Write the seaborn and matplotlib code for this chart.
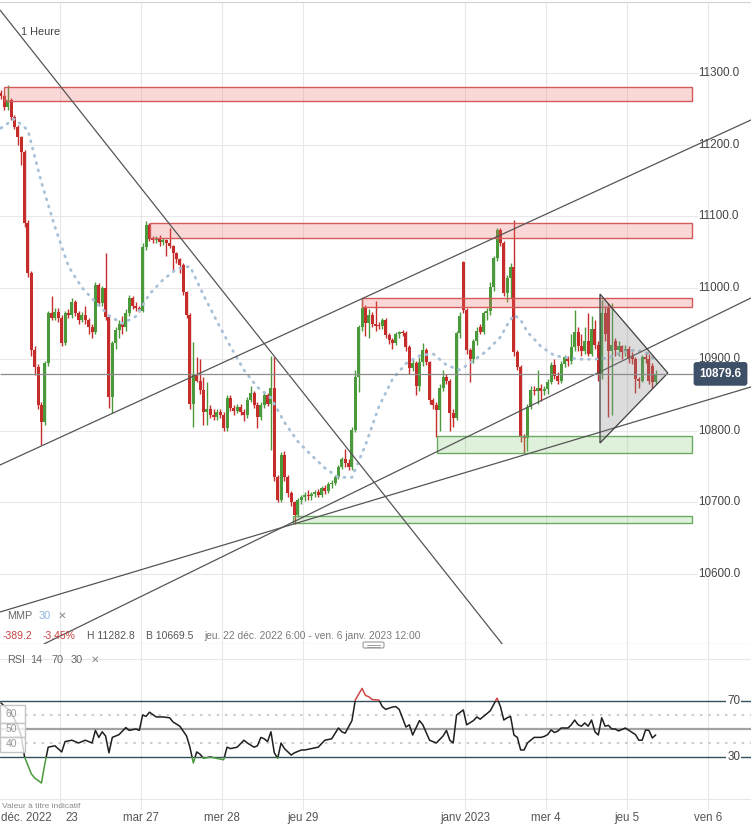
import numpy as np
import pandas as pd
import matplotlib
matplotlib.use('Agg')
import matplotlib.pyplot as plt
from matplotlib.patches import Rectangle, Polygon, FancyBboxPatch
from matplotlib.lines import Line2D
import seaborn as sns

# hourly candles, 22 dec 2022 6:00 -> 5 jan 2023 (one slot per hour)
opens = [
    11272, 11268, 11252, 11262, 11238, 11225, 11210, 11190, 11090, 11020,
    10913, 10889, 10836, 10812, 10895, 10965, 10958, 10966, 10958, 10923,
    10965, 10962, 10980, 10964, 10955, 10962, 10955, 10945, 10938, 11004,
    10979, 11000, 10959, 10847, 10923, 10941, 10950, 10945, 10965, 10985,
    10975, 10972, 10968, 11057, 11088, 11068, 11066, 11069, 11064, 11066,
    11062, 11058, 11048, 11040, 11032, 10994, 10962, 10838, 10878, 10870,
    10857, 10826, 10830, 10822, 10820, 10826, 10822, 10804, 10846, 10832,
    10828, 10834, 10826, 10822, 10843, 10853, 10836, 10820, 10836, 10850,
    10838, 10860, 10735, 10703, 10766, 10735, 10713, 10700, 10683, 10703,
    10707, 10711, 10709, 10712, 10715, 10711, 10720, 10716, 10726, 10727,
    10736, 10750, 10760, 10755, 10750, 10801, 10875, 10945, 10972, 10951,
    10962, 10950, 10947, 10946, 10955, 10934, 10927, 10923, 10935, 10938,
    10937, 10917, 10888, 10895, 10862, 10896, 10913, 10896, 10843, 10836,
    10829, 10860, 10875, 10870, 10825, 10818, 10937, 11036, 10969, 10913,
    10900, 10925, 10945, 10938, 10965, 10968, 11001, 11042, 11081, 11062,
    10993, 11014, 11029, 10910, 10889, 10792, 10790, 10834, 10857, 10855,
    10860, 10855, 10858, 10868, 10892, 10877, 10870, 10893, 10903, 10897,
    10917, 10938, 10918, 10912, 10925, 10908, 10943, 10920, 10880, 10965,
    10973, 10912, 10925, 10913, 10918, 10910, 10915, 10905, 10900, 10872,
    10870, 10903, 10900, 10890, 10868,
]
highs = [
    11276, 11270, 11283, 11265, 11241, 11228, 11212, 11192, 11095, 11024,
    10918, 10893, 10840, 10898, 10968, 10988, 10972, 10972, 10962, 10968,
    10970, 10985, 10983, 10968, 10966, 10975, 10958, 10950, 11008, 11006,
    11003, 11049, 10962, 10925, 10945, 10955, 10960, 10970, 10990, 10988,
    10980, 10975, 11062, 11093, 11090, 11072, 11072, 11073, 11070, 11068,
    11083, 11060, 11050, 11042, 11035, 10996, 10965, 10924, 10903, 10900,
    10875, 10868, 10836, 10830, 10830, 10830, 10826, 10850, 10850, 10836,
    10838, 10838, 10830, 10848, 10863, 10856, 10840, 10840, 10855, 10853,
    10905, 10903, 10738, 10770, 10772, 10738, 10716, 10702, 10706, 10710,
    10714, 10718, 10714, 10718, 10719, 10723, 10724, 10729, 10732, 10739,
    10752, 10763, 10774, 10760, 10806, 10885, 10948, 10986, 10976, 10970,
    10966, 10982, 10952, 10958, 10957, 10937, 10930, 10938, 10940, 10941,
    10939, 10920, 10900, 10898, 10903, 10923, 10916, 10898, 10846, 10840,
    10865, 10885, 10880, 10873, 10830, 10940, 10966, 11038, 10972, 10916,
    10928, 10945, 10950, 10968, 10972, 11008, 11045, 11083, 11084, 11065,
    11018, 11035, 11095, 10913, 10892, 10796, 10838, 10862, 10862, 10885,
    10866, 10862, 10872, 10896, 10900, 10882, 10898, 10906, 10905, 10935,
    10969, 10945, 10935, 10945, 10965, 10960, 10955, 10925, 10983, 10975,
    10978, 10979, 10930, 10925, 10920, 10920, 10918, 10910, 10903, 10875,
    10906, 10910, 10908, 10895, 10885,
]
lows = [
    11263, 11248, 11249, 11234, 11222, 11200, 11172, 11085, 11015, 10905,
    10878, 10830, 10780, 10808, 10890, 10955, 10955, 10952, 10918, 10920,
    10958, 10958, 10960, 10950, 10952, 10950, 10935, 10930, 10935, 10975,
    10975, 10955, 10832, 10825, 10915, 10930, 10935, 10940, 10960, 10970,
    10968, 10966, 10966, 11052, 11065, 11062, 11062, 11058, 11060, 11045,
    11055, 11025, 11035, 11020, 10990, 10958, 10830, 10806, 10868, 10852,
    10808, 10808, 10818, 10815, 10815, 10818, 10800, 10800, 10828, 10822,
    10825, 10822, 10814, 10818, 10840, 10832, 10804, 10815, 10832, 10835,
    10773, 10730, 10700, 10700, 10730, 10708, 10695, 10669.5, 10680, 10698,
    10702, 10704, 10704, 10708, 10707, 10708, 10712, 10713, 10720, 10724,
    10733, 10747, 10750, 10745, 10745, 10798, 10854, 10940, 10932, 10930,
    10945, 10940, 10942, 10943, 10930, 10922, 10915, 10920, 10930, 10932,
    10912, 10880, 10884, 10850, 10855, 10890, 10892, 10838, 10830, 10792,
    10800, 10855, 10865, 10800, 10805, 10815, 10930, 10965, 10908, 10868,
    10895, 10920, 10935, 10935, 10955, 10962, 10995, 11038, 11058, 10988,
    10980, 10985, 10905, 10885, 10785, 10769, 10772, 10830, 10850, 10838,
    10842, 10850, 10852, 10865, 10872, 10865, 10867, 10889, 10890, 10893,
    10912, 10912, 10905, 10908, 10905, 10905, 10915, 10870, 10872, 10925,
    10820, 10822, 10905, 10905, 10900, 10905, 10895, 10893, 10853, 10860,
    10868, 10895, 10865, 10860, 10865,
]
closes = [
    11268, 11252, 11262, 11238, 11225, 11210, 11190, 11090, 11020, 10913,
    10889, 10836, 10812, 10895, 10965, 10958, 10966, 10958, 10923, 10965,
    10962, 10980, 10964, 10955, 10962, 10955, 10945, 10938, 11004, 10979,
    11000, 10959, 10847, 10923, 10941, 10950, 10945, 10965, 10985, 10975,
    10972, 10968, 11057, 11088, 11068, 11066, 11069, 11064, 11066, 11062,
    11058, 11048, 11040, 11032, 10994, 10962, 10838, 10878, 10870, 10857,
    10826, 10830, 10822, 10820, 10826, 10822, 10804, 10846, 10832, 10828,
    10834, 10826, 10822, 10843, 10853, 10836, 10820, 10836, 10850, 10838,
    10860, 10735, 10703, 10766, 10735, 10713, 10700, 10683, 10703, 10707,
    10711, 10709, 10712, 10715, 10711, 10720, 10716, 10726, 10727, 10736,
    10750, 10760, 10755, 10750, 10801, 10875, 10945, 10972, 10951, 10962,
    10950, 10947, 10946, 10955, 10934, 10927, 10923, 10935, 10938, 10937,
    10917, 10888, 10895, 10862, 10896, 10913, 10896, 10843, 10836, 10829,
    10860, 10875, 10870, 10825, 10818, 10937, 10960, 10969, 10913, 10900,
    10925, 10940, 10938, 10965, 10968, 11001, 11042, 11081, 11062, 10993,
    11014, 11029, 10910, 10889, 10792, 10790, 10834, 10857, 10855, 10860,
    10855, 10858, 10868, 10892, 10877, 10870, 10893, 10903, 10897, 10917,
    10938, 10918, 10912, 10925, 10908, 10943, 10920, 10880, 10965, 10935,
    10912, 10920, 10913, 10918, 10910, 10915, 10900, 10900, 10872, 10870,
    10903, 10900, 10870, 10868, 10879.6,
]
last_price = 10879.6

# moving average (MMP 30), read at selected candles
ma_idx = [0, 4, 8, 12, 16, 20, 24, 28, 32, 36, 40, 44, 48, 52, 56, 60, 64, 68,
          72, 76, 80, 84, 88, 92, 96, 100, 104, 108, 112, 116, 120, 124, 128,
          132, 136, 140, 144, 148, 150, 152, 154, 156, 160, 164, 168, 172, 176,
          180, 184, 188, 192, 194]
ma_vals = [11223, 11236, 11220, 11147, 11085, 11030, 11000, 10980, 10961, 10950,
           10960, 10991, 11011, 11026, 11030, 10990, 10953, 10918, 10885, 10861,
           10846, 10812, 10785, 10766, 10748, 10735, 10735, 10780, 10834, 10872,
           10894, 10905, 10908, 10892, 10885, 10898, 10912, 10931, 10948, 10962,
           10955, 10938, 10918, 10905, 10902, 10900, 10900, 10902, 10910, 10913,
           10908, 10897]

# RSI 14
rsi_idx = [0, 3, 5, 6, 7, 9, 10, 12, 13, 14, 16, 18, 19, 21, 23, 25, 27, 28, 29,
           30, 31, 32, 33, 35, 37, 38, 40, 41, 42, 43, 44, 46, 48, 50, 51, 53, 55,
           56, 57, 58, 59, 60, 62, 64, 66, 67, 68, 70, 72, 73, 75, 76, 77, 78, 79,
           80, 81, 82, 83, 84, 86, 87, 89, 90, 92, 94, 96, 98, 100, 101, 102, 104,
           105, 107, 108, 109, 110, 112, 113, 114, 116, 117, 118, 120, 121, 122,
           124, 125, 127, 129, 131, 132, 133, 134, 135, 137, 138, 140, 141, 142,
           143, 144, 145, 147, 148, 149, 150, 151, 152, 153, 154, 155, 156, 157,
           158, 160, 161, 162, 163, 164, 165, 166, 168, 169, 170, 171, 172, 173,
           174, 175, 176, 177, 178, 179, 180, 181, 182, 183, 185, 187, 188, 189,
           190, 191, 192, 193, 194]
rsi_vals = [68.6, 62, 52, 45, 30, 18, 15, 11.4, 25, 37, 38, 33.6, 41, 42, 40, 42,
            40, 49, 44, 48, 45, 33, 44, 46, 51, 49, 50, 49, 60, 59, 62, 58.6, 58.6,
            58, 55, 52, 45, 37, 25.7, 33.6, 32, 29, 30, 29, 28, 37, 36, 37, 42, 40,
            37, 38, 44, 43, 41, 48, 33, 29, 40, 36, 31.4, 33, 35, 35, 36, 37, 42,
            43, 50.7, 48, 47, 56, 70.7, 79, 74, 73, 71, 70.7, 66, 64, 65.7, 66, 64,
            51.4, 53, 45.7, 56, 53, 42, 40, 45, 49, 42, 40, 60, 63.6, 53, 56, 58.6,
            57, 59, 61, 63, 72, 66, 56.4, 58, 59, 45.7, 44, 35, 35, 40, 42, 44, 44,
            44.7, 46, 49.3, 47.5, 48.5, 50.7, 50.7, 53, 56.4, 53, 52, 54.3, 52,
            56.4, 48, 45.7, 58, 52, 52.6, 50, 50, 48.6, 50.7, 47.6, 46, 42, 42,
            49.3, 49, 43.6, 45.7]

# drawn zones (start slot, price band), red = resistance, green = support
zone_start = [1.5, 44.7, 107.5, 129.7, 87.0]
zone_low = [11260.9, 11069.5, 10973.1, 10769.1, 10671.3]
zone_high = [11280.4, 11090.4, 10985.6, 10792.8, 10681.0]
zone_kind = ['r', 'r', 'r', 'g', 'g']
zone_end = 205.3

# drawn trend lines, two anchors each (slot, price)
trend_x1 = [0.22, 0.22, 0.22, 13.85]
trend_p1 = [11388.0, 10752.3, 10546.9, 10503.6]
trend_x2 = [149.26, 222.7, 222.7, 222.7]
trend_p2 = [10500.8, 11234.3, 10861.3, 10985.6]

# drawn triangle
tri_x = [178.0, 178.0, 198.1]
tri_p = [10991.2, 10783.0, 10880.8]

price_ticks = [10600, 10700, 10800, 10900, 11000, 11100, 11200, 11300]
day_slots = [18, 42, 66, 90, 138, 162, 186, 210]
day_labels = ['23', 'mar 27', 'mer 28', 'jeu 29', 'janv 2023', 'mer 4', 'jeu 5', 'ven 6']

W, H = 751, 826
PX = 3.375                 # pixels per hour slot
X0 = 18 - 60 / PX
X1 = X0 + W / PX
RED, GREEN = '#c62d2a', '#4a9a3c'
GRID = '#e8e8e8'

sns.set_style('white')
plt.rcParams['font.family'] = ['Liberation Sans', 'DejaVu Sans']

fig = plt.figure(figsize=(W / 100, H / 100), dpi=100)
fig.patch.set_facecolor('white')
ax = fig.add_axes([0, 1 - 644 / H, 1, 642 / H])
ax_rsi = fig.add_axes([0, 1 - 810 / H, 1, 166 / H])

for a in (ax, ax_rsi):
    a.set_xticks([])
    a.set_yticks([])
    for sp in a.spines.values():
        sp.set_visible(False)
ax.spines['top'].set_visible(True)
ax.spines['top'].set_color('#d2d2d2')
ax.spines['bottom'].set_visible(True)
ax.spines['bottom'].set_color('#9c9c9c')

# grid + price labels
for p in price_ticks:
    ax.axhline(p, xmax=697 / W, color=GRID, lw=0.8, zorder=0)
    ax.text(698 / W, p, f'{p:.1f}', transform=ax.get_yaxis_transform(),
            ha='left', va='center', fontsize=8.4, color='#444444')
for s in day_slots:
    ax.axvline(s, color=GRID, lw=0.8, zorder=0)
    ax_rsi.axvline(s, color=GRID, lw=0.8, zorder=0)

# candles
df = pd.DataFrame({'o': opens, 'h': highs, 'l': lows, 'c': closes})
df['x'] = np.arange(len(df)) + 0.5
cols = np.where(df['c'] >= df['o'], GREEN, RED)
ax.vlines(df['x'], df['l'], df['h'], colors=cols, lw=1.0, zorder=3)
body = (df['c'] - df['o']).abs().clip(lower=1.5)
ax.bar(df['x'], body, bottom=df[['o', 'c']].min(axis=1), width=0.88,
       color=cols, lw=0, zorder=4)

# moving average
sns.lineplot(x=np.array(ma_idx) + 0.5, y=ma_vals, ax=ax, color='#a6c1d8',
             lw=2.0, zorder=5)
ma_line = ax.lines[-1]
ma_line.set_linestyle((0, (0.4, 2.3)))
ma_line.set_dash_capstyle('round')

# zones
for x0, lo, hi, kind in zip(zone_start, zone_low, zone_high, zone_kind):
    if kind == 'r':
        fc, ec = (0.94, 0.40, 0.40, 0.25), '#d45a5a'
    else:
        fc, ec = (0.50, 0.78, 0.45, 0.25), '#6aaa62'
    ax.add_patch(Rectangle((x0, lo), zone_end - x0, hi - lo, facecolor=fc,
                           edgecolor=ec, lw=1, zorder=5))

# trend lines
for xa, pa, xb, pb in zip(trend_x1, trend_p1, trend_x2, trend_p2):
    ax.axline((xa, pa), (xb, pb), color='#555555', lw=0.9, zorder=6)

ax.add_patch(Polygon(np.column_stack([tri_x, tri_p]), closed=True,
                     facecolor=(0.55, 0.55, 0.55, 0.3), edgecolor='#404040',
                     lw=0.9, zorder=6))

# last price
ax.hlines(last_price, X0, X0 + 693 / PX, color='#8c8c8c', lw=0.9, zorder=6)
ax.text(720.5 / W, last_price, f'{last_price:.1f}', transform=ax.get_yaxis_transform(),
        ha='center', va='center', fontsize=8.4, fontweight='bold', color='white',
        bbox=dict(boxstyle='round,pad=0.5,rounding_size=0.25', fc='#3e5068', ec='none'),
        zorder=10)

# RSI panel
ax_rsi.axhline(0, color=GRID, lw=0.8, zorder=0)
ax_rsi.axhline(100, color=GRID, lw=0.8, zorder=0)
ax_rsi.axhline(70, color='#34505e', lw=1.0, zorder=1)
ax_rsi.axhline(30, color='#34505e', lw=1.0, zorder=1)
ax_rsi.axhline(50, color='#a2a2a2', lw=1.6, zorder=1)
for lev in (60, 40):
    ax_rsi.axhline(lev, color='#c4c4c4', lw=1.2, ls=(0, (1.5, 3.5)), zorder=1)

bands = [(30, 40, '#1f1f1f'), (70, 200, '#d04646'), (-100, 130, '#4a9a3c')]
for lo, span, col in bands:
    sns.lineplot(x=np.array(rsi_idx) + 0.5, y=rsi_vals, ax=ax_rsi, color=col,
                 lw=1.1, zorder=4)
    ln = ax_rsi.lines[-1]
    ln.set_clip_path(Rectangle((X0, lo), X1 - X0, span, transform=ax_rsi.transData))

for lo, hi, lab, v in [(54.3, 67.1, '60', 60.5), (44.3, 54.3, '50', 50),
                       (33.6, 44.3, '40', 39.5)]:
    ax_rsi.add_patch(Rectangle((0, lo), 25 / W, hi - lo,
                               transform=ax_rsi.get_yaxis_transform(),
                               facecolor=(1, 1, 1, 0.8), edgecolor='#c4c4c4',
                               lw=1, zorder=8))
    ax_rsi.text(11 / W, v, lab, transform=ax_rsi.get_yaxis_transform(),
                ha='center', va='center', fontsize=7.5, color='#9a9a9a', zorder=9)
for lev in (70, 30):
    ax_rsi.text(740 / W, lev, str(lev), transform=ax_rsi.get_yaxis_transform(),
                ha='right', va='center', fontsize=8.4, color='#444444',
                bbox=dict(fc='white', ec='none', pad=1.0), zorder=9)

for a in (ax, ax_rsi):
    a.set_xlim(X0, X1)
    a.set_xlabel('')
    a.set_ylabel('')
ax.set_ylim(10502.2, 11399.2)
ax_rsi.set_ylim(-7.86, 110.7)


def ftext(x, y, s, **kw):
    kw.setdefault('va', 'center')
    fig.text(x / W, 1 - y / H, s, **kw)


ftext(21, 32, '1 Heure', fontsize=7.9, color='#444444')
ftext(7, 616, 'MMP', fontsize=7.8, color='#666666')
ftext(39, 616, '30', fontsize=7.8, color='#8db4dc')
ftext(58, 616, '✕', fontsize=7.5, color='#8a8a8a')
ftext(3, 636, '-389.2', fontsize=7.5, color='#c4413f')
ftext(43, 636, '-3.45%', fontsize=7.5, color='#c4413f')
ftext(87, 636, 'H 11282.8', fontsize=7.5, color='#555555')
ftext(146, 636, 'B 10669.5', fontsize=7.5, color='#555555')
ftext(204, 636, 'jeu. 22 déc. 2022 6:00 - ven. 6 janv. 2023 12:00', fontsize=7.4,
      color='#7a7a7a')
ftext(7, 660, 'RSI', fontsize=7.8, color='#666666')
ftext(30, 660, '14', fontsize=7.8, color='#666666')
ftext(51, 660, '70', fontsize=7.8, color='#666666')
ftext(71, 660, '30', fontsize=7.8, color='#666666')
ftext(91, 660, '✕', fontsize=7.5, color='#8a8a8a')
ftext(2, 806, 'Valeur à titre indicatif', fontsize=6, color='#8a8a8a')

# date labels
ftext(1, 818, 'déc. 2022', fontsize=8.3, color='#555555', ha='left')
for s, lab in zip(day_slots, day_labels):
    xpx = (s - X0) * PX + (12 if lab == '23' else 0)
    ftext(xpx, 818, lab, fontsize=8.3, color='#555555', ha='center')

# panel resize handle
fig.add_artist(FancyBboxPatch((363 / W, 1 - 648 / H), 21 / W, 6 / H,
                              boxstyle='round,pad=0,rounding_size=0.002',
                              transform=fig.transFigure, fc='white', ec='#9a9a9a', lw=0.8))
for yy in (644.5, 646.5):
    fig.add_artist(Line2D([367 / W, 380 / W], [1 - yy / H, 1 - yy / H],
                          transform=fig.transFigure, color='#9a9a9a', lw=0.7))

fig.savefig('out.png', dpi=100, facecolor='white')
